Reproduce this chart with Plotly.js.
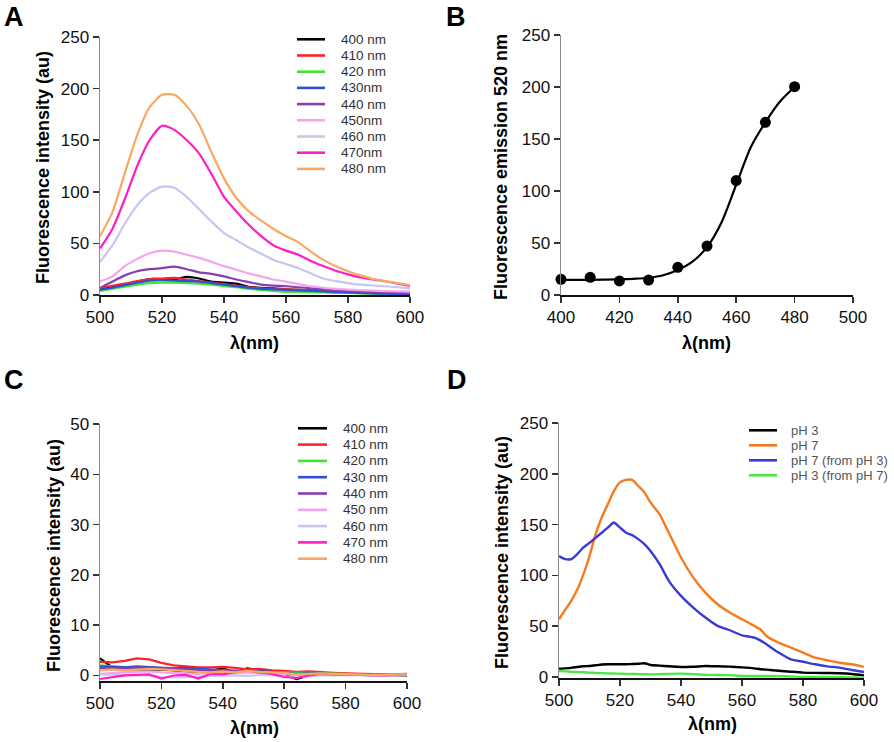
<!DOCTYPE html>
<html><head><meta charset="utf-8">
<script src="https://cdn.plot.ly/plotly-3.0.1.min.js"></script>
<style>html,body{margin:0;padding:0;background:#fff}#chart{width:894px;height:742px}</style>
</head><body><div id="chart"></div>
<script>
// ---------- DATA ----------
const wavelength = [500,504,508,512,516,520,524,528,532,536,540,544,548,552,556,560,564,568,572,576,580,584,588,592,596,600];

// Panel A: emission spectra at pH 7 for different excitation wavelengths
const namesA = ['400 nm','410 nm','420 nm','430nm','440 nm','450nm','460 nm','470nm','480 nm'];
const colorsEx = ['#000000','#ff2424','#3ee62e','#2f4fd6','#8a3db0','#f5a3ec','#c6c6ef','#ff1ec6','#f9a860'];
const a400 = [6,8,10,13,15.5,15.5,15,17.5,16,13,12,11,8,7,6.5,5.5,5,4.5,4,3.5,3,2.5,2,1.5,1.2,1];
const a410 = [7,9,11,13.5,15.5,16,16.5,15,13.5,12,10.5,9,7.5,6.5,6,5.5,5,4.5,4,3.5,3,2.5,2,1.8,1.5,1.2];
const a420 = [4,6,8,10,11.5,12,12,11.5,11,10,8.5,7.5,6,5,4,3,3,2.5,2.5,2,2,1.5,1.2,1,0.8,0.5];
const a430 = [5,7,9.5,12,14,14.5,14,13.5,13,11.5,10,8.5,7,6,5.5,5,4.5,4,3.5,3,2.5,2,1.5,1.2,1,0.8];
const a440 = [6.5,13,19,23,25,26,27.5,25,22,20.5,18,15,12.5,10,9,8.5,7.5,6.5,5.5,4.5,4,3.5,3,2.5,2,1.8];
const a450 = [13,18,28,35,40.5,43,42,39,36,32,28,24.5,21,18,15,13,10.5,8.5,7,6,5.2,4.6,4.2,3.8,3.5,3.2];
const a460 = [32,48,69,87,99,105,104,95,83,71,60,53,46,40,34,30,26,21,16,13.5,11.5,10,9.2,8.5,7.5,6.5];
const a470 = [45,64,93,125,150,164,160,150,137,117,95,81,68,57,48,43,39,33,28,23.5,20,17,15,13.3,11,8.7];
const a480 = [57,80,118,155,182,194,194,183,165,138,113,94,81,72,64,57,51,42,34,28,23,19,15.5,13.5,11.5,9.5];

// Panel B: emission at 520 nm vs excitation wavelength
const excitation = [400,410,420,430,440,450,460,470,480];
const emission520 = [15.1,17,13.5,14.4,26.6,47.1,110,166,200.3];
const fitExcitation = [400,410,420,425,430,435,440,445,450,455,460,465,470,475,480];
const fitEmission = [14.5,14.6,15,15.6,16.6,19,24,32,46,70,106,142,166,186,200];

// Panel C: emission spectra at pH 3
const namesC = ['400 nm','410 nm','420 nm','430 nm','440 nm','450 nm','460 nm','470 nm','480 nm'];
const c400 = [3.4,1.6,1.3,1.2,1.1,1.2,1.0,0.8,0.6,0.9,1.4,0.7,1.4,1.0,0.6,0.3,-0.7,0.0,0.4,0.2,0.3,0.1,0.0,0.1,0.0,0.0];
const c410 = [2.7,2.6,2.9,3.4,3.2,2.5,2.0,1.8,1.6,1.6,1.7,1.5,1.2,1.3,1.0,0.9,0.7,0.8,0.6,0.5,0.4,0.3,0.3,0.2,0.2,0.2];
const c420 = [2.0,1.8,1.6,1.5,1.4,1.3,1.3,1.2,1.1,1.0,1.0,0.9,0.8,0.8,0.7,0.6,0.5,0.5,0.4,0.3,0.3,0.2,0.2,0.1,0.1,0.1];
const c430 = [1.8,1.7,1.6,1.8,1.7,1.5,1.4,1.5,1.3,1.1,1.0,0.9,0.9,0.8,0.7,0.5,0.3,0.4,0.3,0.3,0.2,0.2,0.1,0.1,0.1,0.2];
const c440 = [1.5,1.4,1.3,1.6,1.5,1.3,1.2,1.1,1.0,0.9,0.9,0.8,0.9,0.7,0.6,0.4,0.2,0.3,0.3,0.2,0.2,0.1,0.1,0.2,0.2,0.3];
const c450 = [0.3,0.5,0.6,0.7,0.8,0.6,0.5,0.4,0.3,0.5,0.6,0.4,0.6,0.5,0.4,0.3,0.1,0.2,0.2,0.1,0.1,0.1,0.0,0.1,0.1,0.2];
const c460 = [0.2,0.1,0.1,0.0,0.0,-0.3,-0.4,-0.3,-0.3,-0.2,0.0,0.0,-0.1,0.1,0.0,-0.2,-0.4,-0.2,0.0,0.0,0.0,0.1,0.0,0.0,0.0,0.1];
const c470 = [-0.7,-0.3,0.0,0.1,0.2,-0.6,0.0,0.1,-0.6,0.3,0.2,0.6,1.0,0.6,0.3,-0.3,-0.5,0.0,0.3,0.2,0.2,0.1,0.1,0.0,0.1,0.2];
const c480 = [1.0,1.2,1.0,1.1,1.3,1.2,1.0,0.9,0.7,0.6,0.8,0.6,0.9,0.7,0.6,0.5,0.2,0.3,0.4,0.3,0.2,0.2,0.1,0.1,0.1,0.2];

// Panel D: pH switching
const wavelengthD = [500,502,504,506,508,510,512,514,516,518,520,522,524,526,528,530,533,536,540,544,548,552,556,560,564,566,568,572,576,580,584,588,592,596,600];
const namesD = ['pH 3','pH 7','pH 7 (from pH 3)','pH 3 (from pH 7)'];
const colorsD = ['#000000','#f77a1e','#3a3ad8','#4ee64a'];
const dPH3 = [8.2,8.5,9,9.8,10.5,10.8,11.5,12.3,12.5,12.5,12.5,12.6,12.8,13,13.5,11.8,11.2,10.5,9.9,10,10.8,10.5,10.2,9.5,8.5,7.6,7.2,6.2,5.2,4.3,4,3.9,3.7,3,1.6];
const dPH7 = [56.8,66,75,86,101,119,140.6,157,170,183,191.5,194,194,188,181.7,171.8,160,142,117.6,98,83,71.6,63.4,56.8,50.3,47,40.4,33.8,28.9,24,19,16.4,14,12.5,9.9];
const dPH7from3 = [119,116,116,121,127.5,132,137,142,147,152,147,142,139.6,135.7,130.7,124,111,94.6,79.8,68.3,58.5,50.3,46,41,38.8,36,32.2,24,17.4,15,12.5,10.5,9.2,6.9,4.9];
const dPH3from7 = [5.9,5.5,5.2,4.9,4.6,4.3,4,3.8,3.6,3.4,3.3,3.1,3,2.8,2.7,2.6,2.8,3.1,3.3,2.8,2.2,2,1.8,1,1,1,1,0.8,0.5,0,0,0,-0.2,-0.4,-0.7];

const ticksSpectrum = [500,520,540,560,580,600];
const ticksExc = [400,420,440,460,480,500];
const ticks250 = [0,50,100,150,200,250];
const ticks50 = [0,10,20,30,40,50];

// ---------- BUILD ----------
const FONT = 'Liberation Sans, Arial, Helvetica, sans-serif';
const W = 894, H = 742;
const X = p => p / W;
const Y = p => 1 - p / H;

const seriesA = [a400,a410,a420,a430,a440,a450,a460,a470,a480];
const seriesC = [c400,c410,c420,c430,c440,c450,c460,c470,c480];
const seriesD = [dPH3,dPH7,dPH7from3,dPH3from7];

const traces = [];
seriesA.forEach((s,i) => traces.push({x: wavelength, y: s, xaxis:'x', yaxis:'y', mode:'lines', name: namesA[i],
  line:{color: colorsEx[i], width: 2.2, shape:'spline', smoothing:0.6}, showlegend:false, hoverinfo:'skip'}));
traces.push({x: fitExcitation, y: fitEmission, xaxis:'x2', yaxis:'y2', mode:'lines', name:'fit',
  line:{color:'#000', width:2.2, shape:'spline', smoothing:0.8}, showlegend:false});
traces.push({x: excitation, y: emission520, xaxis:'x2', yaxis:'y2', mode:'markers', name:'520 nm',
  marker:{color:'#000', size:11}, showlegend:false, cliponaxis:false});
seriesC.forEach((s,i) => traces.push({x: wavelength, y: s, xaxis:'x3', yaxis:'y3', mode:'lines', name: namesC[i],
  line:{color: colorsEx[i], width: 2.2}, showlegend:false}));
seriesD.forEach((s,i) => traces.push({x: wavelengthD, y: s, xaxis:'x4', yaxis:'y4', mode:'lines', name: namesD[i],
  line:{color: colorsD[i], width: 2.4, shape:'spline', smoothing:0.5}, showlegend:false}));

const axBase = {showline:true, linewidth:1.5, ticks:'outside', ticklen:6, tickwidth:1.5, tickcolor:'#333',
  showgrid:false, zeroline:false, fixedrange:true, tickfont:{family:FONT, size:17, color:'#111'}};
const xAx = (dom, anchor, range, tv) => Object.assign({}, axBase, {domain:dom, anchor:anchor, range:range, tickvals:tv, linecolor:'#111'});
const yAx = (dom, anchor, range, tv) => Object.assign({}, axBase, {domain:dom, anchor:anchor, range:range, tickvals:tv, linecolor:'#8a8a8a'});

const annotations = [];
const shapes = [];
const txt = (x, y, text, opt) => annotations.push(Object.assign({xref:'paper', yref:'paper', x:X(x), y:Y(y), text:text,
  showarrow:false, xanchor:'center', yanchor:'middle'}, opt));

// panel letters
[['A',14,17],['B',456,17],['C',14,380],['D',457,380]].forEach(l => txt(l[1], l[2], l[0], {font:{family:FONT, size:27, weight:'bold', color:'#000'}}));

// axis titles
const titleFont = {family:FONT, size:18, weight:'bold', color:'#000'};
txt(43, 168, 'Fluorescence intensity (au)', {textangle:-90, font:titleFont});
txt(501, 167, 'Fluorescence emission 520 nm', {textangle:-90, font:titleFont});
txt(54, 556, 'Fluorescence intensity (au)', {textangle:-90, font:titleFont});
txt(502, 553, 'Fluorescence intensity (au)', {textangle:-90, font:titleFont});
txt(255, 343, 'λ(nm)', {font:titleFont});
txt(706, 343, 'λ(nm)', {font:titleFont});
txt(254, 728, 'λ(nm)', {font:titleFont});
txt(712, 724, 'λ(nm)', {font:titleFont});

// legends
function legend(names, colors, x0, x1, xt, y0, dy, fsize, fcolor) {
  names.forEach((n,i) => {
    const yy = y0 + i*dy;
    shapes.push({type:'line', xref:'paper', yref:'paper', x0:X(x0), x1:X(x1), y0:Y(yy), y1:Y(yy), line:{color:colors[i], width:2.6}});
    txt(xt, yy, n, {xanchor:'left', font:{family:FONT, size:fsize, color:fcolor}});
  });
}
legend(namesA, colorsEx, 297, 325, 339, 39.3, 16.2, 13.5, '#333');
legend(namesC, colorsEx, 298, 327, 341, 428.3, 16.3, 13.5, '#333');
legend(namesD, colorsD, 749, 777, 789, 430.3, 15, 13, '#555');

const layout = {
  width: W, height: H, margin:{l:0, r:0, t:0, b:0}, paper_bgcolor:'#fff', plot_bgcolor:'#fff',
  showlegend:false, font:{family:FONT},
  xaxis: xAx([X(100), X(410)], 'y', [500,600], ticksSpectrum),
  yaxis: yAx([Y(295), Y(37)], 'x', [0,250], ticks250),
  xaxis2: xAx([X(561), X(853)], 'y2', [400,500], ticksExc),
  yaxis2: yAx([Y(295), Y(35)], 'x2', [0,250], ticks250),
  xaxis3: xAx([X(100), X(407)], 'y3', [500,600], ticksSpectrum),
  yaxis3: yAx([Y(681), Y(424)], 'x3', [-1.1,50], ticks50),
  xaxis4: xAx([X(559), X(864)], 'y4', [500,600], ticksSpectrum),
  yaxis4: yAx([Y(678), Y(423)], 'x4', [-1,250], ticks250),
  annotations: annotations, shapes: shapes
};

Plotly.newPlot('chart', traces, layout, {displayModeBar:false, staticPlot:true});
</script></body></html>
